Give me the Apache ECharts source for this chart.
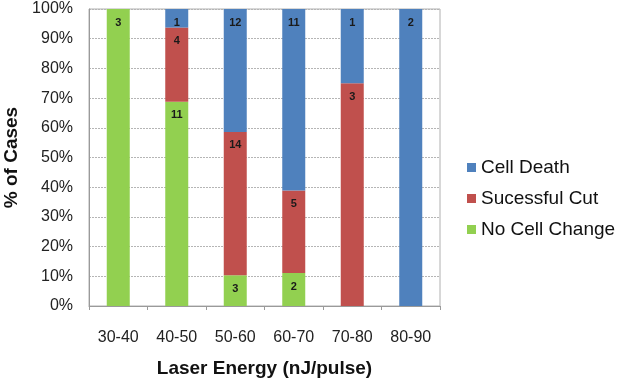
<!DOCTYPE html>
<html>
<head>
<meta charset="utf-8">
<script src="https://cdn.jsdelivr.net/npm/echarts@6/dist/echarts.min.js"></script>
<style>
  html, body { margin: 0; padding: 0; background: #fff; }
  #chart { width: 617px; height: 385px; }
</style>
</head>
<body>
<div id="chart"></div>
<script>
// counts of cases per energy range
const categories = ['30-40', '40-50', '50-60', '60-70', '70-80', '80-90']
const noCellChange = [3, 11, 3, 2, 0, 0]
const successfulCut = [0, 4, 14, 5, 3, 0]
const cellDeath = [0, 1, 12, 11, 1, 2]
const yTicks = [0, 10, 20, 30, 40, 50, 60, 70, 80, 90, 100]

const totals = categories.map((c, i) => noCellChange[i] + successfulCut[i] + cellDeath[i])
const toPercent = counts => counts.map((v, i) => v / totals[i] * 100)

const FONT = 'Liberation Sans, Arial, sans-serif'

const makeSeries = (name, counts, color) => ({
    name: name,
    type: 'bar',
    stack: 'total',
    barWidth: 23,
    data: toPercent(counts),
    itemStyle: { color: color },
    label: {
        show: true,
        position: 'insideTop',
        distance: 8,
        fontFamily: FONT,
        fontSize: 11,
        fontWeight: 'bold',
        color: '#1a1a1a',
        formatter: p => counts[p.dataIndex] ? String(counts[p.dataIndex]) : ''
    }
})

const chart = echarts.init(document.getElementById('chart'))

chart.setOption({
    animation: false,
    textStyle: { fontFamily: FONT },
    grid: {
        left: 89,
        right: 177,
        top: 9,
        bottom: 79,
        outerBoundsMode: 'none',
        containLabel: false,
        show: true,
        borderColor: '#b0b0b0',
        borderWidth: 1
    },
    legend: {
        orient: 'vertical',
        left: 462,
        top: 153,
        itemWidth: 9,
        itemHeight: 9,
        itemGap: 12,
        icon: 'rect',
        data: ['Cell Death', 'Sucessful Cut', 'No Cell Change'],
        textStyle: { fontFamily: FONT, fontSize: 19, color: '#111' }
    },
    xAxis: {
        type: 'category',
        data: categories,
        name: 'Laser Energy (nJ/pulse)',
        nameLocation: 'middle',
        nameGap: 53,
        nameTextStyle: { fontFamily: FONT, fontSize: 19, fontWeight: 'bold', color: '#111' },
        axisLine: { lineStyle: { color: '#9a9a9a' } },
        axisTick: { show: true, length: 4, lineStyle: { color: '#9a9a9a' } },
        axisLabel: { margin: 24, fontFamily: FONT, fontSize: 16, color: '#222' }
    },
    yAxis: {
        type: 'value',
        min: yTicks[0],
        max: yTicks[yTicks.length - 1],
        interval: 10,
        name: '% of Cases',
        nameLocation: 'middle',
        nameGap: 68,
        nameTextStyle: { fontFamily: FONT, fontSize: 19, fontWeight: 'bold', color: '#111' },
        axisLine: { show: true, lineStyle: { color: '#9a9a9a' } },
        axisTick: { show: false },
        axisLabel: { margin: 16, fontFamily: FONT, fontSize: 16, color: '#222', formatter: '{value}%' },
        splitLine: { lineStyle: { color: '#b5b5b5', type: [2, 1] } }
    },
    series: [
        makeSeries('No Cell Change', noCellChange, '#92d050'),
        makeSeries('Sucessful Cut', successfulCut, '#c0504d'),
        makeSeries('Cell Death', cellDeath, '#4f81bd')
    ]
})
</script>
</body>
</html>
